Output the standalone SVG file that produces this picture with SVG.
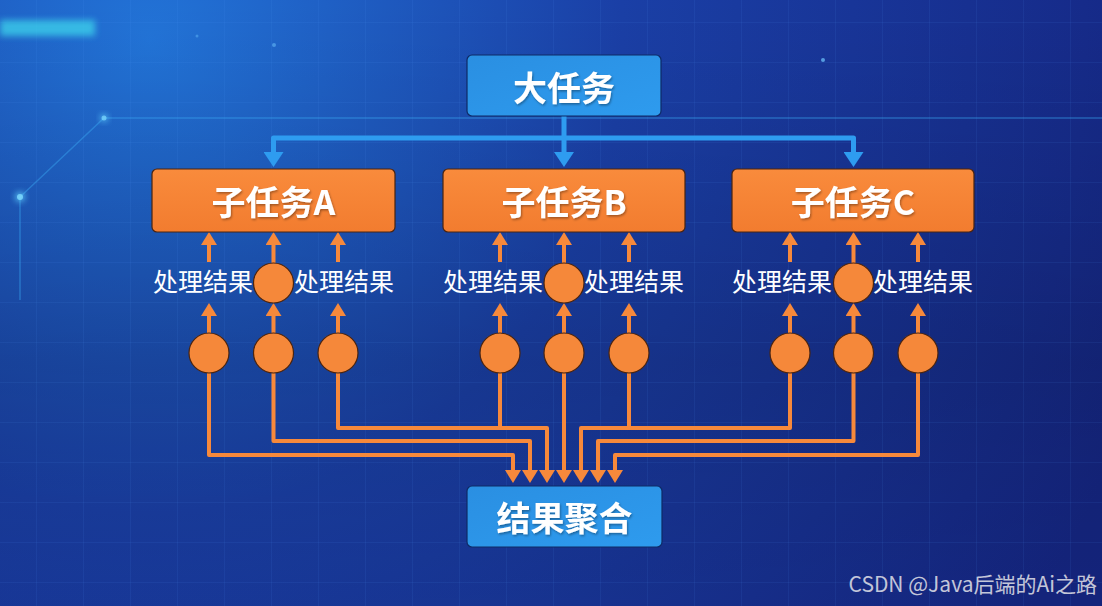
<svg xmlns="http://www.w3.org/2000/svg" width="1102" height="606" viewBox="0 0 1102 606">
  <defs>
    <radialGradient id="bg" cx="150" cy="40" r="1050" gradientUnits="userSpaceOnUse">
      <stop offset="0" stop-color="#2274d8"/>
      <stop offset="0.45" stop-color="#1a3fa6"/>
      <stop offset="1" stop-color="#152683"/>
    </radialGradient>
    <linearGradient id="shade" x1="0" y1="0" x2="0" y2="1">
      <stop offset="0" stop-color="#000" stop-opacity="0"/>
      <stop offset="0.6" stop-color="#000" stop-opacity="0.14"/>
      <stop offset="1" stop-color="#000" stop-opacity="0.06"/>
    </linearGradient>
    <pattern id="grid" x="-10" y="-17" width="47" height="40" patternUnits="userSpaceOnUse">
      <path d="M47,0 V40 M0,40 H47" fill="none" stroke="#5a9cff" stroke-opacity="0.16" stroke-width="1"/>
    </pattern>
    <linearGradient id="blueBox" x1="0" y1="0" x2="1" y2="1">
      <stop offset="0" stop-color="#2a8fe2"/>
      <stop offset="1" stop-color="#2e9bee"/>
    </linearGradient>
    <linearGradient id="orangeBox" x1="0" y1="0" x2="0" y2="1">
      <stop offset="0" stop-color="#f98b3c"/>
      <stop offset="1" stop-color="#f27c2f"/>
    </linearGradient>
    <filter id="glow" x="-50%" y="-50%" width="200%" height="200%">
      <feGaussianBlur stdDeviation="3"/>
    </filter>
    <filter id="tshadow" x="-10%" y="-20%" width="120%" height="140%">
      <feDropShadow dx="1" dy="1.5" stdDeviation="1" flood-color="#000" flood-opacity="0.35"/>
    </filter>
    <marker id="arrO" markerUnits="userSpaceOnUse" markerWidth="14" markerHeight="16" refX="2" refY="8" orient="auto">
      <path d="M0,0 L13,8 L0,16 Z" fill="#f7893b"/>
    </marker>
    <marker id="arrB" markerUnits="userSpaceOnUse" markerWidth="16" markerHeight="20" refX="3" refY="10" orient="auto">
      <path d="M0,0 L15,10 L0,20 Z" fill="#2e9cf0"/>
    </marker>
    <style>
      .box-t { font-family: "Noto Sans CJK SC", "Noto Sans", sans-serif; font-weight: 700; fill: #ffffff; text-anchor: middle; dominant-baseline: central; }
      .big { font-size: 34px; }
      .lbl { font-family: "Noto Sans CJK SC", "Noto Sans", sans-serif; font-weight: 400; font-size: 25px; fill: #ffffff; text-anchor: middle; dominant-baseline: central; }
      .bbox { fill: url(#blueBox); stroke: #0e2a66; stroke-width: 1.2; }
      .obox { fill: url(#orangeBox); stroke: #4a2410; stroke-width: 1.2; }
      .dot { fill: #f5883a; stroke: #4a2410; stroke-width: 1.2; }
      .ol { fill: none; stroke: #f7893b; stroke-width: 4; stroke-linejoin: round; }
      .oa { fill: none; stroke: #f7893b; stroke-width: 4; stroke-linejoin: round; marker-end: url(#arrO); }
      .ba { fill: none; stroke: #2e9cf0; stroke-width: 5; stroke-linejoin: round; marker-end: url(#arrB); }
    </style>
  </defs>

  <!-- background -->
  <g id="background">
    <rect width="1102" height="606" fill="url(#bg)"/>
    <rect width="1102" height="606" fill="url(#shade)"/>
    <rect width="1102" height="606" fill="url(#grid)"/>
    <rect x="0" y="20" width="95" height="16" fill="#3ed4ec" opacity="0.75" filter="url(#glow)"/>
    <path d="M20,300 V197 L104,118 H1102" fill="none" stroke="#3aa6f0" stroke-opacity="0.45" stroke-width="1.5"/>
    <circle cx="20" cy="197" r="5" fill="#5fd0ff" opacity="0.8" filter="url(#glow)"/>
    <circle cx="20" cy="197" r="3" fill="#7fdcff" opacity="0.8"/>
    <circle cx="104" cy="118" r="4" fill="#5fd0ff" opacity="0.7" filter="url(#glow)"/>
    <circle cx="104" cy="118" r="2.5" fill="#7fdcff" opacity="0.7"/>
    <circle cx="823" cy="60" r="2" fill="#6fc8ff" opacity="0.7"/>
    <circle cx="274" cy="45" r="2" fill="#6fc8ff" opacity="0.5"/>
    <circle cx="197" cy="36" r="1.5" fill="#6fc8ff" opacity="0.4"/>
  </g>

  <!-- connectors -->
  <g id="connectors">
    <path class="ba" d="M564,116 V155"/>
    <path class="ba" d="M564,138 H273.5 V155"/>
    <path class="ba" d="M564,138 H853.5 V155"/>

    <path class="oa" d="M209,262 V243"/>
    <path class="oa" d="M273.5,263 V243"/>
    <path class="oa" d="M338,262 V243"/>
    <path class="oa" d="M500,262 V243"/>
    <path class="oa" d="M564,263 V243"/>
    <path class="oa" d="M629,262 V243"/>
    <path class="oa" d="M790,262 V243"/>
    <path class="oa" d="M853.5,263 V243"/>
    <path class="oa" d="M918,262 V243"/>

    <path class="oa" d="M209,333 V314"/>
    <path class="oa" d="M273.5,333 V314"/>
    <path class="oa" d="M338,333 V314"/>
    <path class="oa" d="M500,333 V314"/>
    <path class="oa" d="M564,333 V314"/>
    <path class="oa" d="M629,333 V314"/>
    <path class="oa" d="M790,333 V314"/>
    <path class="oa" d="M853.5,333 V314"/>
    <path class="oa" d="M918,333 V314"/>

    <path class="oa" d="M209,373 V455 H513 V472"/>
    <path class="oa" d="M273.5,373 V441 H530 V472"/>
    <path class="oa" d="M338,373 V428 H547 V472"/>
    <path class="ol" d="M500,373 V428"/>
    <path class="oa" d="M564,373 V472"/>
    <path class="ol" d="M629,373 V428"/>
    <path class="oa" d="M790,373 V428 H581 V472"/>
    <path class="oa" d="M853.5,373 V441 H598 V472"/>
    <path class="oa" d="M918,373 V455 H615 V472"/>
  </g>

  <!-- nodes -->
  <g id="big-task">
    <rect class="bbox" x="467" y="55" width="194" height="61" rx="5"/>
    <text class="box-t big" x="564" y="86" filter="url(#tshadow)">大任务</text>
  </g>

  <g id="subtask-a">
    <rect class="obox" x="152" y="169" width="243" height="63" rx="5"/>
    <text class="box-t big" x="273.5" y="200" filter="url(#tshadow)">子任务A</text>
  </g>
  <g id="subtask-b">
    <rect class="obox" x="443" y="169" width="242" height="63" rx="5"/>
    <text class="box-t big" x="564" y="200" filter="url(#tshadow)">子任务B</text>
  </g>
  <g id="subtask-c">
    <rect class="obox" x="732" y="169" width="242" height="63" rx="5"/>
    <text class="box-t big" x="853" y="200" filter="url(#tshadow)">子任务C</text>
  </g>

  <g id="labels">
    <text class="lbl" x="203" y="280">处理结果</text>
    <text class="lbl" x="344" y="280">处理结果</text>
    <text class="lbl" x="493" y="280">处理结果</text>
    <text class="lbl" x="634" y="280">处理结果</text>
    <text class="lbl" x="782" y="280">处理结果</text>
    <text class="lbl" x="923" y="280">处理结果</text>
  </g>

  <g id="mid-a"><circle class="dot" cx="273.5" cy="283" r="20"/></g>
  <g id="mid-b"><circle class="dot" cx="564" cy="283" r="20"/></g>
  <g id="mid-c"><circle class="dot" cx="853.5" cy="283" r="20"/></g>

  <g id="worker-a1"><circle class="dot" cx="209" cy="353" r="20"/></g>
  <g id="worker-a2"><circle class="dot" cx="273.5" cy="353" r="20"/></g>
  <g id="worker-a3"><circle class="dot" cx="338" cy="353" r="20"/></g>
  <g id="worker-b1"><circle class="dot" cx="500" cy="353" r="20"/></g>
  <g id="worker-b2"><circle class="dot" cx="564" cy="353" r="20"/></g>
  <g id="worker-b3"><circle class="dot" cx="629" cy="353" r="20"/></g>
  <g id="worker-c1"><circle class="dot" cx="790" cy="353" r="20"/></g>
  <g id="worker-c2"><circle class="dot" cx="853.5" cy="353" r="20"/></g>
  <g id="worker-c3"><circle class="dot" cx="918" cy="353" r="20"/></g>

  <g id="aggregate">
    <rect class="bbox" x="467" y="486" width="195" height="61" rx="5"/>
    <text class="box-t big" x="564.5" y="516" filter="url(#tshadow)">结果聚合</text>
  </g>

  <g id="watermark">
    <text x="1097" y="592" text-anchor="end" font-family="'Noto Sans CJK SC', 'Noto Sans', sans-serif" font-size="21" fill="#e4e4ea" fill-opacity="0.85">CSDN @Java后端的Ai之路</text>
  </g>
</svg>
